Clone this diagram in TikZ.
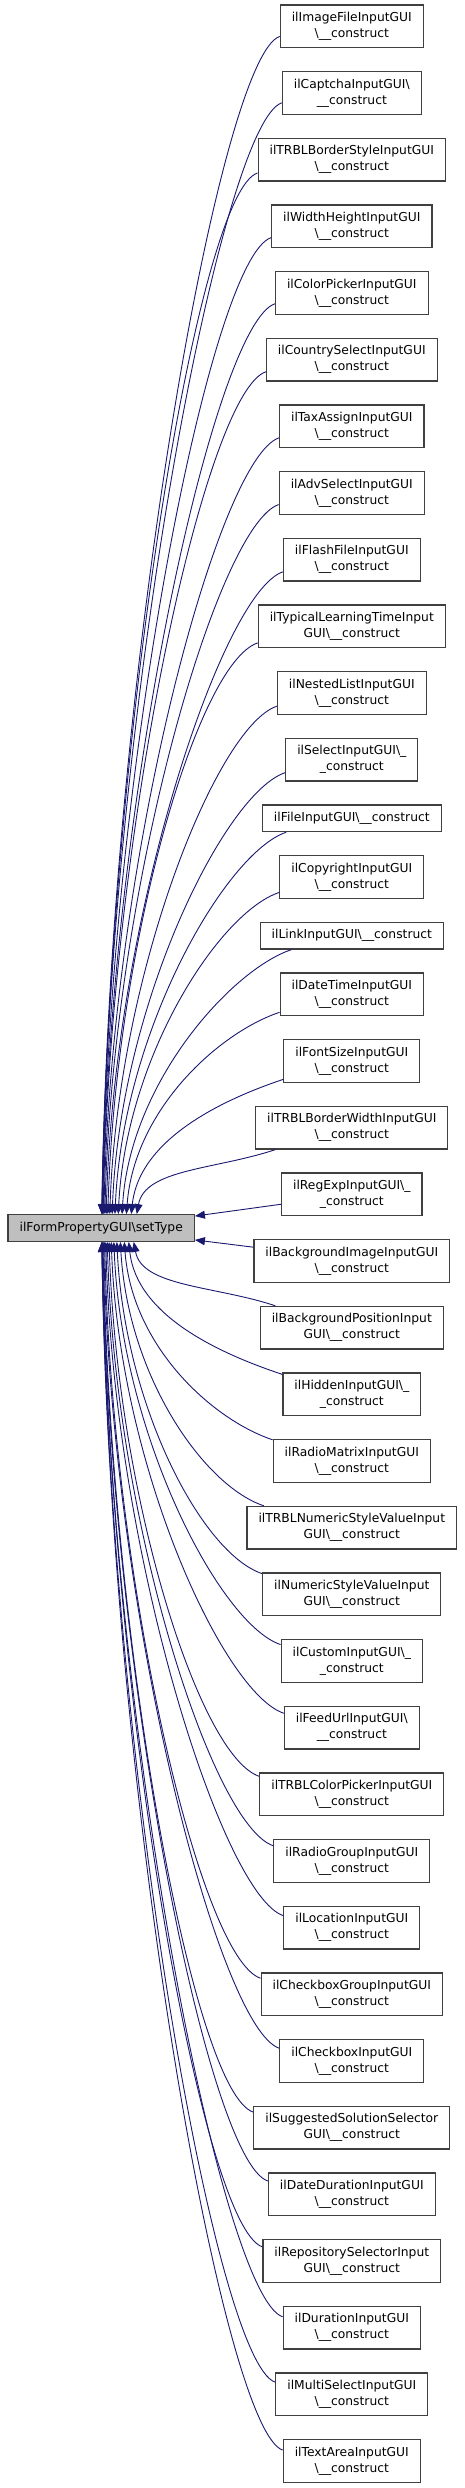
\documentclass[tikz,border=0pt]{standalone}
\usepackage{fontspec}
\setmainfont{DejaVu Sans}
\usetikzlibrary{arrows.meta, calc}
\definecolor{lienbleu}{RGB}{25,25,112}
\definecolor{grisnoeud}{RGB}{191,191,191}
\definecolor{bordure}{RGB}{64,64,64}
\newcommand{\bsl}{\textbackslash}
\newcommand{\ctor}{\textbackslash\_\_construct}

\begin{document}
\begin{tikzpicture}[x=1pt, y=-1pt,
    fn/.style={draw=bordure, line width=1.2pt, fill=white, align=center,
      font=\fontsize{12.3}{16}\selectfont, inner xsep=11.5pt, inner ysep=0pt},
    call/.style={lienbleu, line width=0.9pt,
      -{Triangle[length=10pt, width=8pt]}}]

  \useasboundingbox (0,0) rectangle (464,2488);

  % Fonction appelée
  \node[fn, fill=grisnoeud, minimum height=26.67pt] (main) at (101.2,1228)
    {ilFormPropertyGUI\bsl setType};

  % Appelants, de haut en bas
  \foreach \i/\cy/\txt in {
      1/26.3/{ilImageFileInputGUI\\\ctor},
      2/93.0/{ilCaptchaInputGUI\bsl\\\_\_construct},
      3/159.7/{ilTRBLBorderStyleInputGUI\\\ctor},
      4/226.3/{ilWidthHeightInputGUI\\\ctor},
      5/293.0/{ilColorPickerInputGUI\\\ctor},
      6/359.7/{ilCountrySelectInputGUI\\\ctor},
      7/426.3/{ilTaxAssignInputGUI\\\ctor},
      8/493.0/{ilAdvSelectInputGUI\\\ctor},
      9/559.7/{ilFlashFileInputGUI\\\ctor},
      10/626.3/{ilTypicalLearningTimeInput\\GUI\ctor},
      11/693.0/{ilNestedListInputGUI\\\ctor},
      12/759.7/{ilSelectInputGUI\bsl\_\\\_construct},
      13/818.3/{ilFileInputGUI\ctor},
      14/877.0/{ilCopyrightInputGUI\\\ctor},
      15/935.7/{ilLinkInputGUI\ctor},
      16/994.3/{ilDateTimeInputGUI\\\ctor},
      17/1061.0/{ilFontSizeInputGUI\\\ctor},
      18/1127.7/{ilTRBLBorderWidthInputGUI\\\ctor},
      19/1194.3/{ilRegExpInputGUI\bsl\_\\\_construct},
      20/1261.0/{ilBackgroundImageInputGUI\\\ctor},
      21/1327.7/{ilBackgroundPositionInput\\GUI\ctor},
      22/1394.3/{ilHiddenInputGUI\bsl\_\\\_construct},
      23/1461.0/{ilRadioMatrixInputGUI\\\ctor},
      24/1527.7/{ilTRBLNumericStyleValueInput\\GUI\ctor},
      25/1594.3/{ilNumericStyleValueInput\\GUI\ctor},
      26/1661.0/{ilCustomInputGUI\bsl\_\\\_construct},
      27/1727.7/{ilFeedUrlInputGUI\bsl\\\_\_construct},
      28/1794.3/{ilTRBLColorPickerInputGUI\\\ctor},
      29/1861.0/{ilRadioGroupInputGUI\\\ctor},
      30/1927.7/{ilLocationInputGUI\\\ctor},
      31/1994.3/{ilCheckboxGroupInputGUI\\\ctor},
      32/2061.0/{ilCheckboxInputGUI\\\ctor},
      33/2127.7/{ilSuggestedSolutionSelector\\GUI\ctor},
      34/2194.3/{ilDateDurationInputGUI\\\ctor},
      35/2261.0/{ilRepositorySelectorInput\\GUI\ctor},
      36/2327.7/{ilDurationInputGUI\\\ctor},
      37/2394.3/{ilMultiSelectInputGUI\\\ctor},
      38/2461.0/{ilTextAreaInputGUI\\\ctor}} {
    \pgfmathsetmacro\h{(\i==13 || \i==15) ? 26.67 : 42.67}
    \node[fn, minimum height=\h pt] (n\i) at (351.8,\cy) {\txt};

    % Liens vers setType
    \ifnum\i<19
      \pgfmathtruncatemacro\ang{188+8*(\i/18)^2}
      \pgfmathsetmacro\tx{94.3+35*(\i/18)^3}
      \pgfmathsetmacro\dd{0.45*(1228-\cy)}
      \draw[call] (n\i.\ang) .. controls +(-60,20) and +(8,-\dd)
        .. ($(main.north west)+(\tx,0)$);
    \fi
    \ifnum\i>20
      \pgfmathtruncatemacro\ang{172-8*((39-\i)/18)^2}
      \pgfmathsetmacro\tx{94.3+32*((39-\i)/18)^3}
      \pgfmathsetmacro\dd{0.45*(\cy-1228)}
      \draw[call] (n\i.\ang) .. controls +(-60,-20) and +(8,\dd)
        .. ($(main.south west)+(\tx,0)$);
    \fi
  }

  % Les deux voisins directs
  \draw[call] (n19.188) -- ($(main.north east)+(0,2)$);
  \draw[call] (n20.172) -- ($(main.south east)+(0,-2)$);

\end{tikzpicture}
\end{document}
